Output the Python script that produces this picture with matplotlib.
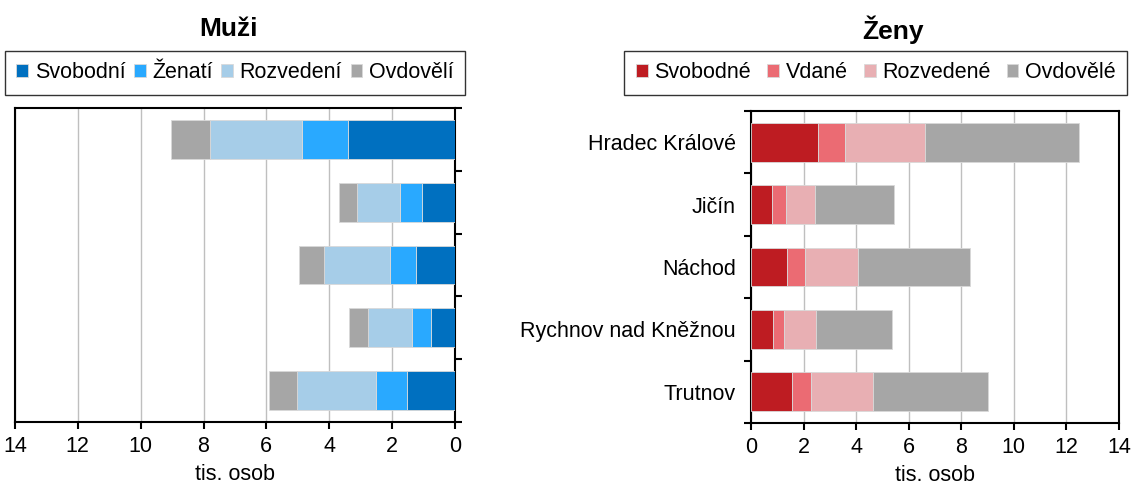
import matplotlib.pyplot as plt
import numpy as np

plt.rcParams['font.family'] = ['Liberation Sans', 'DejaVu Sans']

okresy = ['Hradec Králové', 'Jičín', 'Náchod', 'Rychnov nad Kněžnou', 'Trutnov']

# muži (tis. osob)
m_labels = ['Svobodní', 'Ženatí', 'Rozvedení', 'Ovdovělí']
m_svobodni = [3.41, 1.06, 1.23, 0.75, 1.52]
m_zenati = [1.44, 0.70, 0.83, 0.60, 1.00]
m_rozvedeni = [2.95, 1.35, 2.12, 1.42, 2.49]
m_ovdoveli = [1.22, 0.57, 0.78, 0.59, 0.90]
m_colors = ['#0070C0', '#29A9FF', '#A6CDE8', '#A6A6A6']

# ženy (tis. osob)
z_labels = ['Svobodné', 'Vdané', 'Rozvedené', 'Ovdovělé']
z_svobodne = [2.55, 0.80, 1.38, 0.85, 1.56]
z_vdane = [1.04, 0.53, 0.66, 0.40, 0.72]
z_rozvedene = [3.05, 1.09, 2.03, 1.22, 2.35]
z_ovdovele = [5.84, 3.01, 4.26, 2.89, 4.37]
z_colors = ['#BE1C22', '#EB6B73', '#E8AFB3', '#A6A6A6']

xticks = np.arange(0, 15, 2)
fs = 15.5

fig = plt.figure(figsize=(11.33, 4.86), dpi=100)
ax1 = fig.add_axes([0.0132, 0.1317, 0.3883, 0.646])
ax2 = fig.add_axes([0.6628, 0.1296, 0.3248, 0.642])

y = np.arange(len(okresy))


def draw(ax, series, labels, colors):
    left = np.zeros(len(okresy))
    handles = []
    for vals, lab, col in zip(series, labels, colors):
        h = ax.barh(y, vals, left=left, height=0.62, color=col,
                    edgecolor='#D9D9D9', linewidth=0.6, label=lab, zorder=3)
        handles.append(h)
        left += np.array(vals)
    ax.set_ylim(len(okresy) - 0.5, -0.5)
    ax.set_xticks(xticks)
    ax.set_xticklabels([str(t) for t in xticks], fontsize=fs)
    ax.grid(axis='x', color='#BFBFBF', linewidth=1, zorder=0)
    ax.set_xlabel('tis. osob', fontsize=fs, labelpad=5)
    for s in ax.spines.values():
        s.set_linewidth(1.5)
    ax.tick_params(axis='x', direction='out', length=5, width=1.5, pad=5)
    ax.set_yticks(np.arange(-0.5, len(okresy)), minor=True)
    ax.tick_params(axis='y', which='minor', direction='out', length=5, width=1.5)
    return handles


h1 = draw(ax1, [m_svobodni, m_zenati, m_rozvedeni, m_ovdoveli], m_labels, m_colors)
ax1.set_xlim(14, 0)
ax1.yaxis.tick_right()
ax1.set_yticks([])
ax1.set_yticks(np.arange(-0.5, len(okresy)), minor=True)
ax1.tick_params(axis='y', which='minor', direction='out', length=5, width=1.5,
                right=True, left=False)

h2 = draw(ax2, [z_svobodne, z_vdane, z_rozvedene, z_ovdovele], z_labels, z_colors)
ax2.set_xlim(0, 14)
ax2.set_yticks(y)
ax2.set_yticklabels(okresy, fontsize=fs)
ax2.tick_params(axis='y', which='major', length=0, pad=11)

fig.text(0.2013, 0.94, 'Muži', ha='center', va='center', fontsize=19, fontweight='bold')
fig.text(0.788, 0.938, 'Ženy', ha='center', va='center', fontsize=19, fontweight='bold')

leg_kw = dict(ncol=4, frameon=True, fontsize=fs, handlelength=0.55, handleheight=0.55,
              handletextpad=0.3, borderpad=0.55, fancybox=False,
              edgecolor='black', loc='center', borderaxespad=0)
l1 = fig.legend(handles=h1, labels=m_labels, bbox_to_anchor=(0.2074, 0.85),
                columnspacing=0.4, **leg_kw)
l2 = fig.legend(handles=h2, labels=z_labels, bbox_to_anchor=(0.773, 0.85),
                columnspacing=0.75, **leg_kw)
for l in (l1, l2):
    l.get_frame().set_linewidth(1.0)

fig.savefig('out.png', dpi=100)
